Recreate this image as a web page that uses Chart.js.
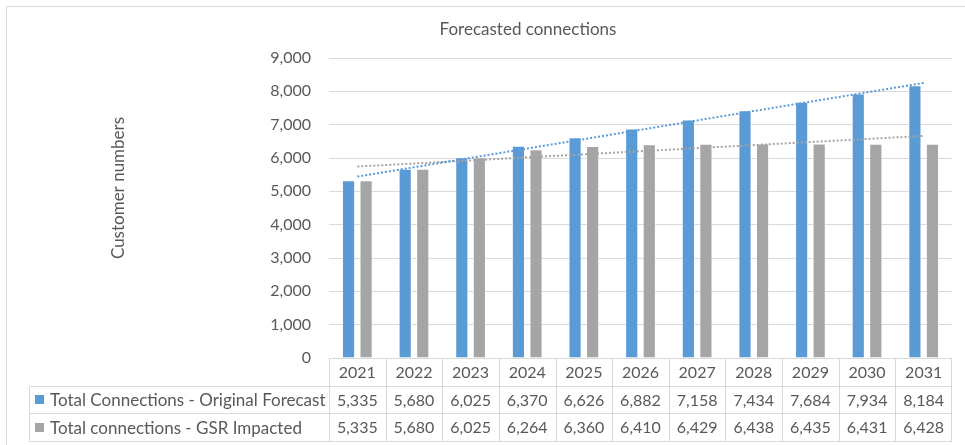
<!DOCTYPE html>
<html>
<head>
<meta charset="utf-8">
<script src="https://cdn.jsdelivr.net/npm/chart.js@4/dist/chart.umd.min.js"></script>
<style>
  html, body { margin: 0; padding: 0; background: #fff; }
  #wrap { width: 965px; height: 445px; position: relative; }
</style>
</head>
<body>
<div id="wrap"><canvas id="connChart" width="965" height="445"></canvas></div>
<script>
/* Forecasted connections - clustered bars + linear trendlines + data table */

const years = ["2021", "2022", "2023", "2024", "2025", "2026", "2027", "2028", "2029", "2030", "2031"];
const originalForecast = [5335, 5680, 6025, 6370, 6626, 6882, 7158, 7434, 7684, 7934, 8184];
const gsrImpacted = [5335, 5680, 6025, 6264, 6360, 6410, 6429, 6438, 6435, 6431, 6428];
const seriesNames = ["Total Connections - Original Forecast", "Total connections - GSR Impacted"];
const yTicks = [0, 1000, 2000, 3000, 4000, 5000, 6000, 7000, 8000, 9000];

const BLUE = "#5b9bd5";
const GREY = "#a5a5a5";
const TEXT = "#595959";
const LINE = "#d9d9d9";
const FONT = "Lato, 'Open Sans', sans-serif";

// least-squares line through a series (same as a spreadsheet linear trendline)
function trendOf(values) {
  const n = values.length;
  const mx = (n - 1) / 2;
  const my = values.reduce((a, b) => a + b, 0) / n;
  let sxy = 0, sxx = 0;
  values.forEach((v, i) => {
    sxy += (i - mx) * (v - my);
    sxx += (i - mx) * (i - mx);
  });
  const slope = sxy / sxx;
  return values.map((_, i) => my + slope * (i - mx));
}

function fmt(n) {
  return Number(n).toLocaleString("en-US");
}

// title, axis title, outer frame and the data table under the plot
const extrasPlugin = {
  id: "extras",
  afterDraw(chart) {
    const { ctx, chartArea, scales } = chart;
    const x = scales.x;
    const half = (x.getPixelForValue(1) - x.getPixelForValue(0)) / 2;
    const right = chartArea.right;
    const top = chartArea.bottom;
    const rowH = 27.7;
    const labelLeft = 29.5;

    ctx.save();

    // frame
    ctx.strokeStyle = LINE;
    ctx.lineWidth = 1;
    ctx.beginPath();
    ctx.moveTo(6.5, 460);
    ctx.lineTo(6.5, 6.5);
    ctx.lineTo(970, 6.5);
    ctx.stroke();

    // chart title
    ctx.fillStyle = TEXT;
    ctx.font = "17px " + FONT;
    ctx.textAlign = "center";
    ctx.textBaseline = "middle";
    ctx.fillText("Forecasted connections", 528, 30);

    // y axis title
    ctx.save();
    ctx.translate(119, 188);
    ctx.rotate(-Math.PI / 2);
    ctx.fillText("Customer numbers", 0, 0);
    ctx.restore();

    // table grid
    ctx.strokeStyle = LINE;
    ctx.beginPath();
    for (let r = 1; r <= 3; r++) {
      const y = Math.round(top + r * rowH) + 0.5;
      ctx.moveTo(labelLeft, y);
      ctx.lineTo(right, y);
    }
    ctx.moveTo(labelLeft, Math.round(top + rowH) + 0.5);
    ctx.lineTo(labelLeft, Math.round(top + 3 * rowH) + 0.5);
    years.forEach((_, i) => {
      const ex = Math.round(x.getPixelForValue(i) - half) + 0.5;
      ctx.moveTo(ex, top);
      ctx.lineTo(ex, Math.round(top + 3 * rowH) + 0.5);
    });
    const rx = Math.round(right) - 0.5;
    ctx.moveTo(rx, top);
    ctx.lineTo(rx, Math.round(top + 3 * rowH) + 0.5);
    ctx.stroke();

    // header + values
    ctx.fillStyle = TEXT;
    ctx.font = "16px " + FONT;
    ctx.textAlign = "center";
    const rows = [originalForecast, gsrImpacted];
    years.forEach((yr, i) => {
      const cx = x.getPixelForValue(i);
      ctx.fillText(yr, cx, top + rowH / 2 + 1);
      rows.forEach((vals, r) => {
        ctx.fillText(fmt(vals[i]), cx, top + rowH * (r + 1.5) + 1);
      });
    });

    // row labels with legend keys
    ctx.textAlign = "left";
    ctx.font = "17px " + FONT;
    [BLUE, GREY].forEach((c, r) => {
      const cy = top + rowH * (r + 1.5);
      ctx.fillStyle = c;
      ctx.fillRect(35, Math.round(cy - 4.5), 9, 9);
      ctx.fillStyle = TEXT;
      ctx.fillText(seriesNames[r], 50, cy + 1);
    });

    ctx.restore();
  },
};

const ctx = document.getElementById("connChart").getContext("2d");

new Chart(ctx, {
  type: "bar",
  data: {
    labels: years,
    datasets: [
      {
        type: "line",
        label: "Trend (" + seriesNames[0] + ")",
        data: trendOf(originalForecast),
        borderColor: BLUE,
        borderWidth: 2,
        borderDash: [2, 2],
        pointRadius: 0,
        fill: false,
        order: 0,
      },
      {
        type: "line",
        label: "Trend (" + seriesNames[1] + ")",
        data: trendOf(gsrImpacted),
        borderColor: GREY,
        borderWidth: 2,
        borderDash: [2, 2],
        pointRadius: 0,
        fill: false,
        order: 0,
      },
      {
        label: seriesNames[0],
        data: originalForecast,
        backgroundColor: BLUE,
        borderColor: "rgba(255,255,255,0.55)",
        borderWidth: 1,
        categoryPercentage: 0.62,
        barPercentage: 0.75,
        order: 1,
      },
      {
        label: seriesNames[1],
        data: gsrImpacted,
        backgroundColor: GREY,
        borderColor: "rgba(255,255,255,0.55)",
        borderWidth: 1,
        categoryPercentage: 0.62,
        barPercentage: 0.75,
        order: 1,
      },
    ],
  },
  options: {
    responsive: false,
    animation: false,
    layout: { padding: { top: 58, right: 13, bottom: 87, left: 0 } },
    plugins: {
      legend: { display: false },
      title: { display: false },
      tooltip: { enabled: false },
    },
    scales: {
      x: {
        display: false,
        offset: true,
        grid: { display: false },
      },
      y: {
        min: 0,
        max: 9000,
        afterFit(scale) {
          scale.width = 329;
        },
        afterBuildTicks(scale) {
          scale.ticks = yTicks.map((v) => ({ value: v }));
        },
        border: { display: false },
        grid: { color: LINE, drawTicks: false },
        ticks: {
          color: TEXT,
          padding: 18,
          font: { family: FONT, size: 16 },
          callback: (v) => fmt(v),
        },
      },
    },
  },
  plugins: [extrasPlugin],
});
</script>
</body>
</html>
